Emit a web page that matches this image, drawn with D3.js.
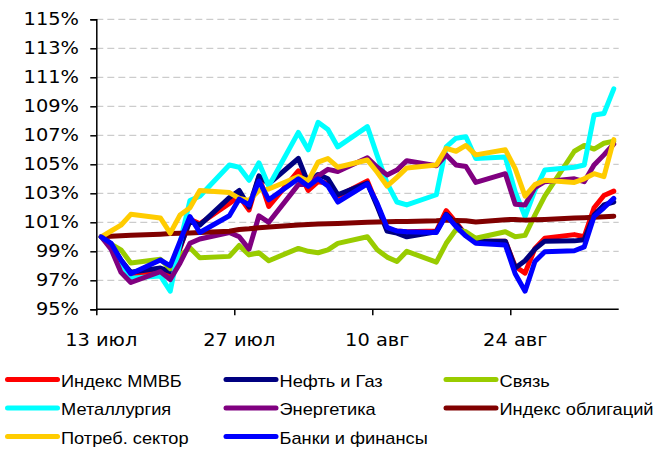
<!DOCTYPE html>
<html><head><meta charset="utf-8">
<script src="https://cdn.jsdelivr.net/npm/d3@7"></script>
<style>body{margin:0;background:#fff} svg{display:block}</style>
</head><body><svg id="c" width="657" height="450"></svg>
<script>
// Trading days
const dates = ["2010-07-13","2010-07-14","2010-07-15","2010-07-16",
 "2010-07-19","2010-07-20","2010-07-21","2010-07-22","2010-07-23",
 "2010-07-26","2010-07-27","2010-07-28","2010-07-29","2010-07-30",
 "2010-08-02","2010-08-03","2010-08-04","2010-08-05","2010-08-06",
 "2010-08-09","2010-08-10","2010-08-11","2010-08-12","2010-08-13",
 "2010-08-16","2010-08-17","2010-08-18","2010-08-19","2010-08-20",
 "2010-08-23","2010-08-24","2010-08-25","2010-08-26","2010-08-27",
 "2010-08-30","2010-08-31","2010-09-01","2010-09-02","2010-09-03"];

const mmvb   = [100,99.5,98.3,97.4, 97.6,97.4,99.2,101.2,100.9, 102.3,102.8,101.85,104.15,102.1, 104.55,103.2,103.8,103.7,102.8, 103.85,102.2,100.5,100.4,100.35, 100.4,101.8,101.0,100.1,99.7, 99.7,97.95,97.5,99.2,99.9, 100.15,100.0,102.0,102.85,103.15];
const oilGas = [100,99.5,98.4,97.55, 97.85,97.6,99.3,101.1,100.8, 102.7,103.2,102.05,104.2,103.65, 105.4,103.7,104.3,104.0,102.9, 103.7,102.1,100.4,100.25,100.0, 100.35,101.55,100.9,100.1,99.7, 99.7,97.85,98.35,99.15,99.7, 99.72,99.8,101.5,102.2,102.4];
const telecom= [100,99.5,99.1,98.2, 98.45,97.8,98.7,99.25,98.55, 98.65,99.4,98.75,98.9,98.35, 99.2,99.0,98.9,99.1,99.55, 100.0,99.1,98.6,98.3,99.0, 98.25,99.55,100.5,100.35,99.9, 100.35,100.0,100.1,101.5,102.8, 105.9,106.3,106.05,106.45,106.6];
const metals = [100,99.3,98.2,97.15, 97.3,96.25,99.6,102.5,102.8, 104.95,104.8,103.9,105.1,103.5, 107.2,106.0,107.9,107.4,106.2, 107.6,105.6,103.7,102.4,102.2, 102.9,106.2,106.8,106.9,105.4, 105.5,103.1,101.4,103.2,104.6, 104.8,104.95,108.4,108.5,110.2];
const energy = [100,99.15,97.55,96.85, 97.6,97.05,98.2,99.55,99.85, 100.3,100.0,99.15,101.45,101.0, 103.6,103.6,104.2,104.65,104.5, 105.45,104.8,104.27,104.6,105.25, 104.9,105.65,104.95,104.85,103.75, 104.35,102.25,102.2,103.4,103.8, 104.0,103.8,104.95,105.65,106.4];
const bonds  = [100,100.04,100.08,100.1, 100.18,100.22,100.25,100.27,100.3, 100.38,100.5,100.55,100.62,100.68, 100.82,100.85,100.88,100.9,100.92, 101.0,101.02,101.03,101.05,101.05, 101.1,101.15,101.12,101.1,101.02, 101.18,101.2,101.15,101.17,101.2, 101.3,101.32,101.35,101.38,101.42];
const consumer=[100,100.4,100.8,101.55, 101.3,100.25,101.5,102.0,103.2, 103.05,102.65,102.5,103.2,103.3, 104.15,103.85,105.15,105.4,104.8, 105.3,104.45,103.5,104.1,104.75, 104.95,106.1,105.9,106.3,105.65, 106.0,104.7,102.8,103.6,103.9, 103.75,104.0,104.35,104.15,106.7];
const banks  = [100,99.55,98.4,97.45, 98.4,98.0,99.7,101.4,100.3, 101.45,102.6,102.2,103.85,102.55, 104.0,103.48,104.0,103.5,102.4, 103.65,102.3,100.65,100.4,100.35, 100.3,101.5,100.7,100.05,99.55, 99.44,97.45,96.25,98.3,98.97, 99.04,99.3,101.4,102.0,102.65];

const seriesNames  = ["Индекс ММВБ","Нефть и Газ","Связь","Металлургия","Энергетика","Индекс облигаций","Потреб. сектор","Банки и финансы"];
const seriesColors = ["#FF0000","#000080","#99CC00","#00FFFF","#800080","#800000","#FFCC00","#0000FF"];
const seriesValues = [mmvb, oilGas, telecom, metals, energy, bonds, consumer, banks];

const yTicks = [95,97,99,101,103,105,107,109,111,113,115];
const xTickDates  = ["2010-07-13","2010-07-27","2010-08-10","2010-08-24"];
const xTickLabels = ["13 июл","27 июл","10 авг","24 авг"];

const parse = d3.utcParse("%Y-%m-%d");
const svg = d3.select("#c");
const SX = 1.14;

const x = d3.scaleUtc()
  .domain([parse("2010-07-13"), parse("2010-09-04")])
  .range([96.3, 618.7]);
const y = d3.scaleLinear().domain([95,115]).range([309.3, 19.3]);
const xc = d => x(d3.utcHour.offset(parse(d), 12));

// gridlines
svg.append("g").selectAll("line").data(yTicks.filter(t=>t>95)).join("line")
  .attr("x1", 96.3).attr("x2", 618.7)
  .attr("y1", d=>y(d)).attr("y2", d=>y(d))
  .attr("stroke", "#c0c0c0").attr("stroke-width", 1)
  .attr("stroke-dasharray", "7,4");

// y axis
const yAxis = svg.append("g").attr("transform","translate(96.3,0)")
  .call(d3.axisLeft(y).tickValues(yTicks).tickSize(6).tickFormat(()=>""));
yAxis.select(".domain").attr("stroke","#000").attr("stroke-width",1.5);
yAxis.selectAll(".tick line").attr("stroke","#000").attr("stroke-width",1.5);
svg.append("g").selectAll("text").data(yTicks).join("text")
  .attr("transform", d=>`translate(79,${y(d)+6}) scale(${SX},1)`)
  .attr("text-anchor","end")
  .attr("font-family","'DejaVu Sans', Verdana, sans-serif")
  .attr("font-size", 17).attr("fill","#000")
  .text(d=>d+"%");

// x axis
const xAxis = svg.append("g").attr("transform","translate(0,309.3)")
  .call(d3.axisBottom(x).tickValues(xTickDates.map(parse)).tickSize(6).tickFormat(()=>""));
xAxis.select(".domain").attr("stroke","#000").attr("stroke-width",1.5)
  .attr("d", "M96.3,0H618.7");
xAxis.selectAll(".tick line").attr("stroke","#000").attr("stroke-width",1.5);
svg.append("g").selectAll("text").data(xTickDates).join("text")
  .attr("transform", (d)=>`translate(${xc(d)},346) scale(${SX},1)`)
  .attr("text-anchor","middle")
  .attr("font-family","'DejaVu Sans', Verdana, sans-serif")
  .attr("font-size", 17).attr("fill","#000")
  .text((d,i)=>xTickLabels[i]);

// series
const line = d3.line().x((v,i)=>xc(dates[i])).y(v=>y(v));
svg.append("g").selectAll("path").data(seriesValues).join("path")
  .attr("d", d=>line(d))
  .attr("fill","none")
  .attr("stroke", (d,i)=>seriesColors[i])
  .attr("stroke-width", 5)
  .attr("stroke-linejoin","round")
  .attr("stroke-linecap","round");

// legend
const legX = [7.5, 226, 446];
const legY = [379.5, 408, 436.5];
const leg = svg.append("g").selectAll("g").data(seriesNames).join("g")
  .attr("transform",(d,i)=>`translate(${legX[i%3]},${legY[Math.floor(i/3)]})`);
leg.append("line").attr("x1",0).attr("x2",50).attr("y1",0).attr("y2",0)
  .attr("stroke",(d,i)=>seriesColors[i]).attr("stroke-width",5).attr("stroke-linecap","round");
leg.append("text")
  .attr("transform",`translate(53.5,7) scale(${SX},1)`)
  .attr("font-family","'Liberation Sans', Arial, sans-serif")
  .attr("font-size",16).attr("fill","#000")
  .text(d=>d);
</script></body></html>
